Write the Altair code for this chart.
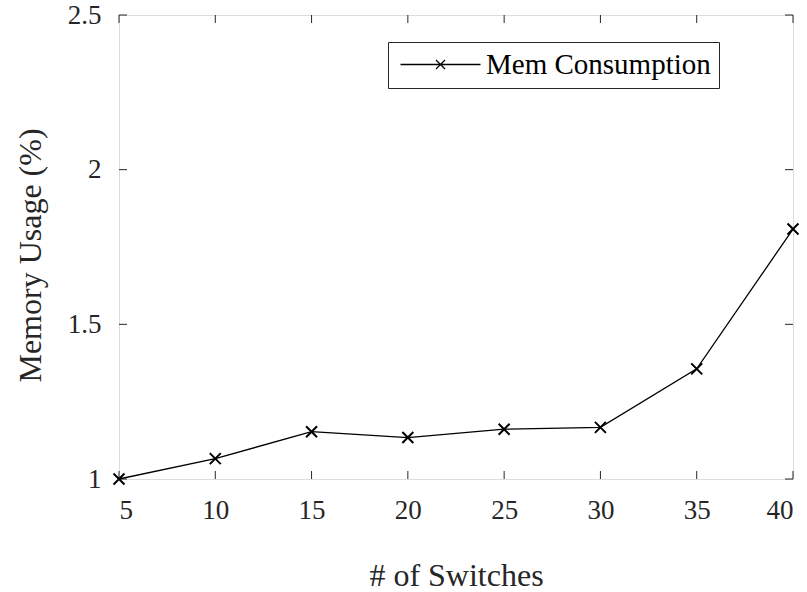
import altair as alt
import pandas as pd

switches = [5, 10, 15, 20, 25, 30, 35, 40]
memory = [1.0, 1.066, 1.153, 1.134, 1.161, 1.167, 1.356, 1.808]
series_name = "Mem Consumption"
x_ticks = [5, 10, 15, 20, 25, 30, 35, 40]
y_ticks = [1.0, 1.5, 2.0, 2.5]

df = pd.DataFrame({"switches": switches, "memory": memory, "series": series_name})
xt = pd.DataFrame({"t": x_ticks})
yt = pd.DataFrame({"t": y_ticks})

W, H = 674, 464
FONT = "'Liberation Serif', 'Times New Roman', Times, serif"
TXT = "#262626"
TL = 8

xscale = alt.Scale(domain=[5, 40], nice=False, zero=False)
yscale = alt.Scale(domain=[1, 2.5], nice=False, zero=False)

xaxis = alt.Axis(values=x_ticks, format="~g", title="# of Switches", domain=False, ticks=False,
                 grid=False, labelFont=FONT, labelFontSize=27, labelColor=TXT, labelPadding=18,
                 titleFont=FONT, titleFontSize=32, titleColor=TXT, titleFontWeight="normal",
                 titleX=W / 2, titleY=106, titleBaseline="alphabetic", titleAlign="center")
yaxis = alt.Axis(values=y_ticks, format="~g", title="Memory Usage (%)", domain=False, ticks=False,
                 grid=False, labelFont=FONT, labelFontSize=27, labelColor=TXT, labelPadding=18,
                 titleFont=FONT, titleFontSize=32, titleColor=TXT, titleFontWeight="normal",
                 titleX=-79, titleY=H / 2 + 8, titleBaseline="alphabetic", titleAlign="center", titleAngle=-90)

color = alt.Color("series:N", scale=alt.Scale(domain=[series_name], range=["black"]),
                  legend=alt.Legend(title=None, orient="none", legendX=269, legendY=27,
                                    padding=8, strokeColor="#262626", fillColor="white",
                                    symbolType="M-1.0,0H7.0M2.55,-0.45L3.45,0.45M2.55,0.45L3.45,-0.45",
                                    symbolSize=400, symbolStrokeWidth=1.3, symbolFillColor="transparent",
                                    labelOffset=61, labelFont=FONT, labelFontSize=29, labelColor="black",
                                    labelLimit=400))

line = alt.Chart(df).mark_line(strokeWidth=1.3, color="black").encode(
    x=alt.X("switches:Q", scale=xscale, axis=xaxis),
    y=alt.Y("memory:Q", scale=yscale, axis=yaxis),
)
pts = alt.Chart(df).mark_point(shape="M-1,-1L1,1M-1,1L1,-1", size=121, filled=False,
                               strokeWidth=2, opacity=1).encode(
    x=alt.X("switches:Q", scale=xscale),
    y=alt.Y("memory:Q", scale=yscale),
    color=color,
)

rule_style = dict(color=TXT, strokeWidth=1)
xb = alt.Chart(xt).mark_rule(**rule_style).encode(
    x=alt.X("t:Q", scale=xscale), y=alt.value(H - TL), y2=alt.value(H))
xtop = alt.Chart(xt).mark_rule(**rule_style).encode(
    x=alt.X("t:Q", scale=xscale), y=alt.value(0), y2=alt.value(TL))
yl = alt.Chart(yt).mark_rule(**rule_style).encode(
    y=alt.Y("t:Q", scale=yscale), x=alt.value(0), x2=alt.value(TL))
yr = alt.Chart(yt).mark_rule(**rule_style).encode(
    y=alt.Y("t:Q", scale=yscale), x=alt.value(W - TL), x2=alt.value(W))

chart = alt.layer(xb, xtop, yl, yr, line, pts).properties(
    width=W, height=H,
    autosize=alt.AutoSizeParams(type="none"),
    padding={"left": 119, "top": 15, "right": 14, "bottom": 113},
).configure_view(stroke=TXT, strokeWidth=1.2).configure(background="white")

chart.save("out.html", embed_options={"renderer": "svg", "actions": False})
